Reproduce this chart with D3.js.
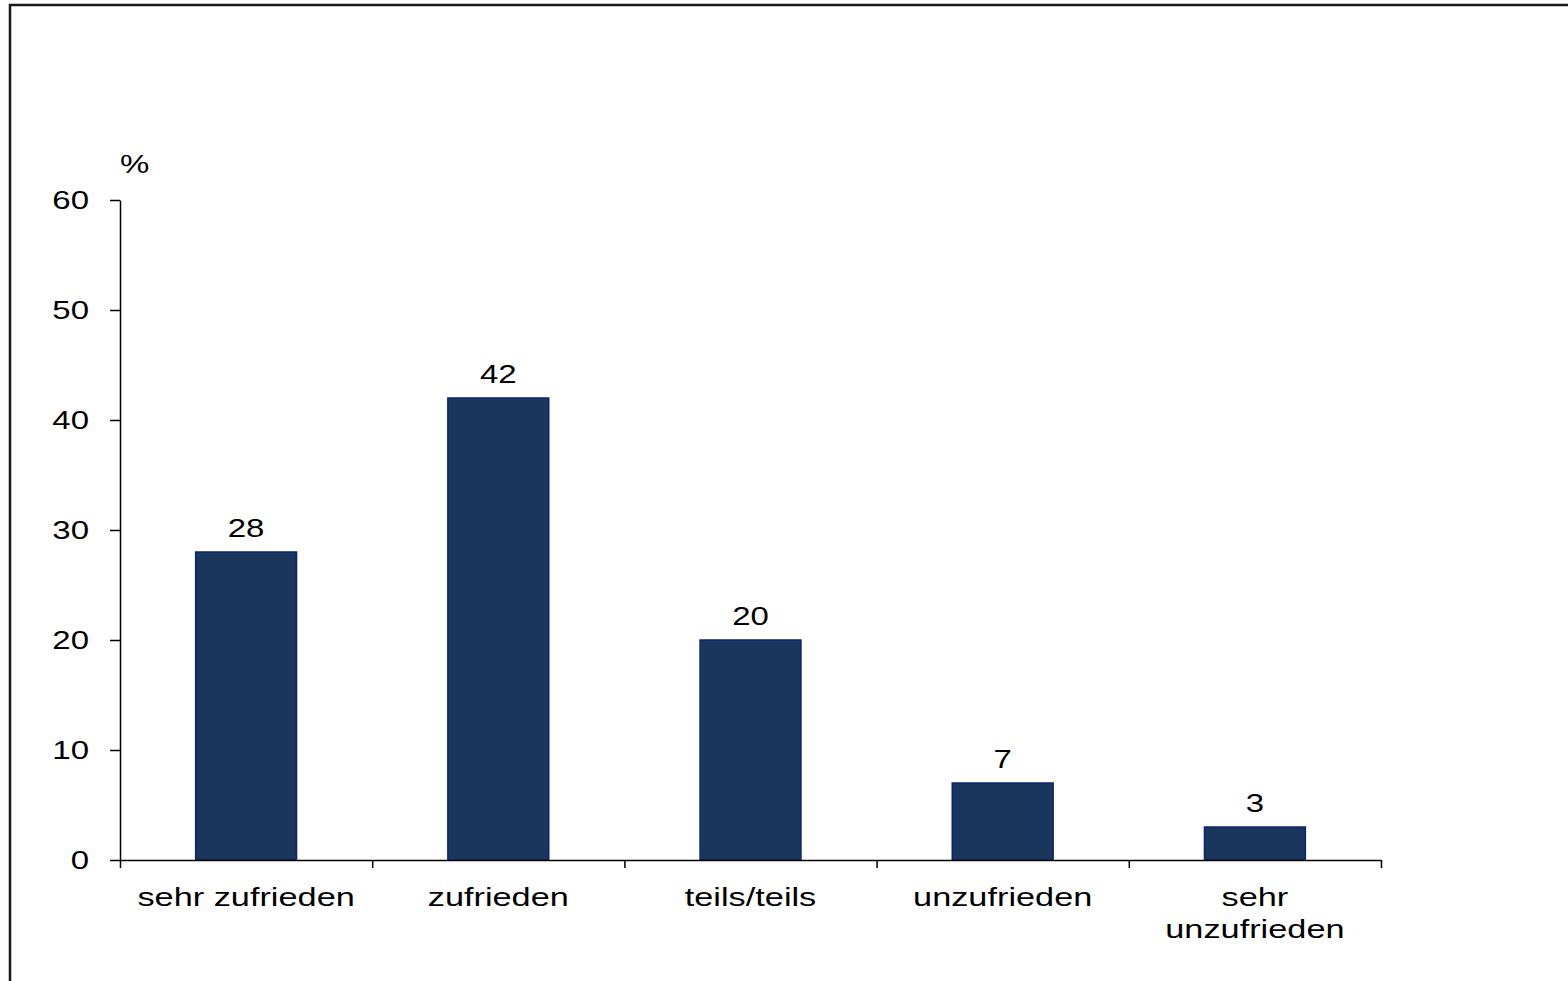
<!DOCTYPE html>
<html><head><meta charset="utf-8">
<script src="https://cdn.jsdelivr.net/npm/d3@7"></script>
<style>html,body{margin:0;padding:0;background:#fff;overflow:hidden}</style>
</head><body>
<svg id="c" width="1568" height="981"></svg>
<script>
const categories = ["sehr zufrieden", "zufrieden", "teils/teils", "unzufrieden", "sehr unzufrieden"];
const labelLines = [["sehr zufrieden"], ["zufrieden"], ["teils/teils"], ["unzufrieden"], ["sehr", "unzufrieden"]];
const values = [28, 42, 20, 7, 3];
const yTicks = [0, 10, 20, 30, 40, 50, 60];
const unitLabel = "%";

const svg = d3.select("#c");
const font = "'Liberation Sans', Arial, sans-serif";
const SX = 1.32;

// frame
svg.append("rect").attr("x", 10).attr("y", 5).attr("width", 1600).attr("height", 1000)
  .attr("fill", "none").attr("stroke", "#1a1a1a").attr("stroke-width", 2.5);

const x0 = 120, x1 = 1381, yTop = 200, yBot = 860;
const x = d3.scaleBand().domain(categories).range([x0, x1]).paddingInner(0.6).paddingOuter(0.3);
const xEdge = d3.scaleLinear().domain([0, categories.length]).range([x0, x1]);
const y = d3.scaleLinear().domain([0, 60]).range([yBot, yTop]);

function sText(g, tx, ty, str, size, anchor) {
  return g.append("text")
    .attr("transform", `translate(${tx},${ty}) scale(${SX},1)`)
    .attr("font-family", font).attr("font-size", size).attr("fill", "#000")
    .attr("text-anchor", anchor || "middle").text(str);
}

// y axis
const ya = svg.append("g").attr("transform", `translate(${x0},0)`)
  .call(d3.axisLeft(y).tickValues(yTicks).tickSize(10).tickPadding(20).tickSizeOuter(0));
ya.select(".domain").attr("stroke", "#000").attr("stroke-width", 1.5);
ya.selectAll(".tick line").attr("stroke", "#000").attr("stroke-width", 1.5);
ya.selectAll(".tick text").attr("font-family", font).attr("font-size", 25).attr("fill", "#000")
  .attr("x", -31 / SX).attr("transform", `scale(${SX},1)`);

// bars
svg.append("g").selectAll("rect").data(values).join("rect")
  .attr("x", (d, i) => x(categories[i]))
  .attr("width", x.bandwidth())
  .attr("y", d => y(d))
  .attr("height", d => y(0) - y(d))
  .attr("fill", "#1a365d").attr("stroke", "#0b2472").attr("stroke-width", 1.5);

// x axis
const xa = svg.append("g").attr("transform", `translate(0,${yBot})`)
  .call(d3.axisBottom(xEdge).tickValues(d3.range(categories.length + 1)).tickSize(8).tickFormat("").tickSizeOuter(0));
xa.select(".domain").attr("stroke", "#000").attr("stroke-width", 1.5);
xa.selectAll(".tick line").attr("stroke", "#000").attr("stroke-width", 1.5);

// x labels
const lab = svg.append("g");
labelLines.forEach((lines, i) => {
  lines.forEach((ln, j) => {
    sText(lab, x(categories[i]) + x.bandwidth() / 2, 906 + j * 32, ln, 26);
  });
});

// value labels
const vl = svg.append("g");
values.forEach((v, i) => {
  sText(vl, x(categories[i]) + x.bandwidth() / 2, y(v) - 15, v, 25);
});

sText(svg, 120, 173, unitLabel, 25, "start");
</script>
</body></html>
